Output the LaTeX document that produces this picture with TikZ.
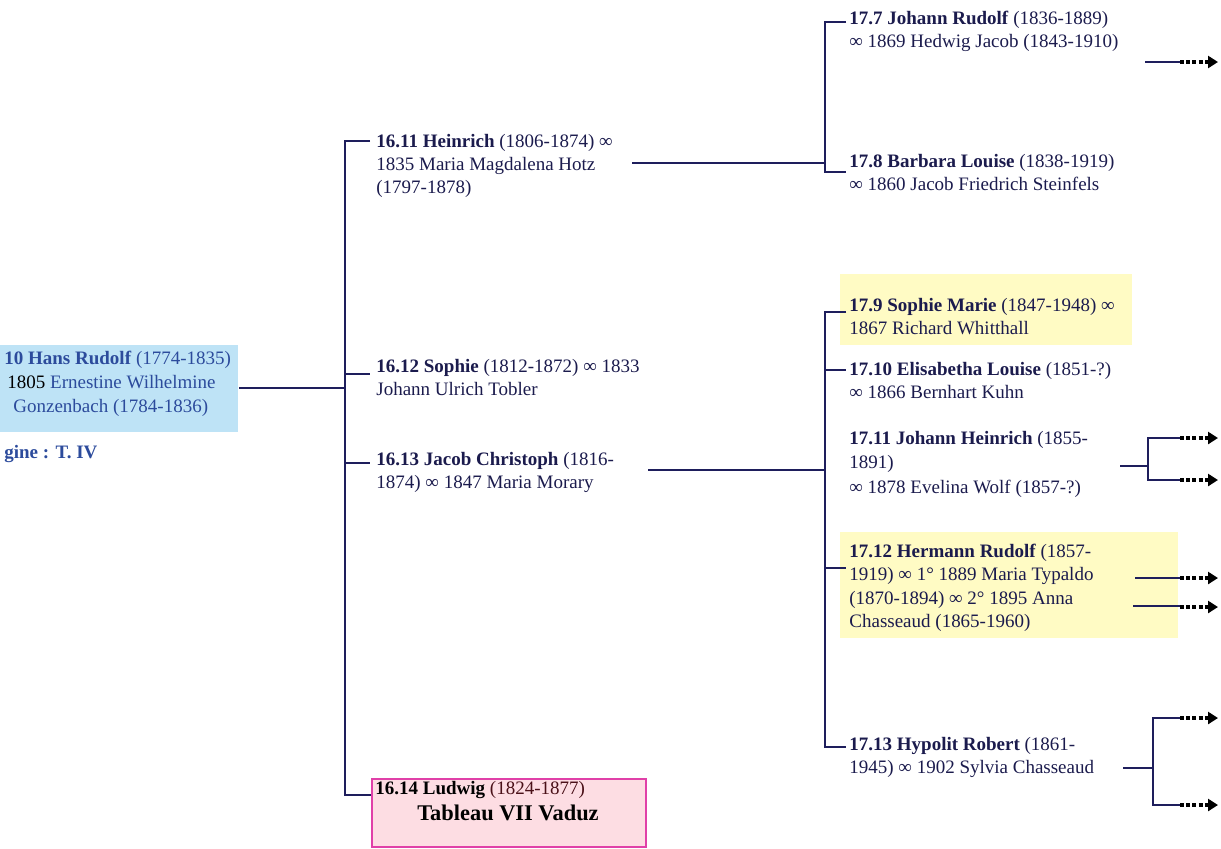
\documentclass[tikz,border=0pt]{standalone}
\usepackage{fontspec}
\setmainfont{Liberation Serif}
\usetikzlibrary{arrows.meta}

\definecolor{ink}{HTML}{1B1B4D}
\definecolor{navyline}{HTML}{1E1E5C}
\definecolor{skyfill}{HTML}{BEE3F6}
\definecolor{skyink}{HTML}{2C4B9C}
\definecolor{notefill}{HTML}{FFFBC4}
\definecolor{rosefill}{HTML}{FDDDE3}
\definecolor{roseedge}{HTML}{E040A8}
\definecolor{roseink}{HTML}{4A1018}

\tikzset{
  famline/.style={draw=navyline, line width=1pt},
  nxt/.style={draw=black, line width=1.6pt, dash pattern=on 2pt off 1.1pt,
    -{Triangle[length=5pt,width=6pt]}},
  person/.style={inner sep=0pt, anchor=north west, align=left, text=ink,
    font=\fontsize{9.5}{11.4}\selectfont},
  hilite/.style={fill=notefill, draw=none, anchor=north west, inner sep=0pt}
}

\begin{document}
\begin{tikzpicture}[x=0.5pt,y=-0.5pt]
    \useasboundingbox (0,0) rectangle (1221,848);

    % Highlight boxes
    \node[hilite, minimum width=146pt, minimum height=35.5pt] (box179) at (840,274) {};
    \node[hilite, minimum width=169pt, minimum height=53pt] (box1712) at (840,532) {};

    % Generation 15
    \node[fill=skyfill, anchor=north west, minimum width=119pt, minimum height=43.5pt,
          inner sep=0pt] (hr) at (0,345) {};
    \node[person, text=skyink, font=\fontsize{9.5}{12}\selectfont] (hrtxt) at (4,351)
      {\textbf{10 Hans Rudolf} (1774-1835)\\
       \hspace*{1.5pt}\textcolor{black}{1805} Ernestine Wilhelmine\\
       \hspace*{4.5pt}Gonzenbach (1784-1836)};
    \node[person, text=skyink] (orig) at (4,445) {\textbf{gine : T. IV}};

    % Generation 16
    \node[person] (h1611) at (376,134)
      {\textbf{16.11 Heinrich} (1806-1874) ∞\\1835 Maria Magdalena Hotz\\(1797-1878)};
    \node[person] (s1612) at (376,359)
      {\textbf{16.12 Sophie} (1812-1872) ∞ 1833\\Johann Ulrich Tobler};
    \node[person] (j1613) at (376,452)
      {\textbf{16.13 Jacob Christoph} (1816-\\1874) ∞ 1847 Maria Morary};
    \node[fill=rosefill, draw=roseedge, line width=0.8pt, anchor=north west,
          minimum width=137pt, minimum height=34pt, inner sep=0pt] (l1614) at (371,778) {};
    \node[person, text=roseink] (l1614a) at (375,781)
      {\textbf{\textcolor{black}{16.14 Ludwig}} (1824-1877)};
    \node[inner sep=0pt, text=black, font=\fontsize{11.2}{13}\selectfont\bfseries]
      (l1614b) at (508,813) {Tableau VII Vaduz};

    % Generation 17
    \node[person] (j177) at (849,11)
      {\textbf{17.7 Johann Rudolf} (1836-1889)\\∞ 1869 Hedwig Jacob (1843-1910)};
    \node[person] (b178) at (849,154)
      {\textbf{17.8 Barbara Louise} (1838-1919)\\∞ 1860 Jacob Friedrich Steinfels};
    \node[person] (s179) at (849,298)
      {\textbf{17.9 Sophie Marie} (1847-1948) ∞\\1867 Richard Whitthall};
    \node[person] (e1710) at (849,362)
      {\textbf{17.10 Elisabetha Louise} (1851-?)\\∞ 1866 Bernhart Kuhn};
    \node[person, font=\fontsize{9.5}{12.2}\selectfont] (j1711) at (849,431)
      {\textbf{17.11 Johann Heinrich} (1855-\\1891)\\∞ 1878 Evelina Wolf (1857-?)};
    \node[person, font=\fontsize{9.5}{11.6}\selectfont] (h1712) at (849,544)
      {\textbf{17.12 Hermann Rudolf} (1857-\\1919) ∞ 1° 1889 Maria Typaldo\\
       (1870-1894) ∞ 2° 1895 Anna\\Chasseaud (1865-1960)};
    \node[person] (h1713) at (849,737)
      {\textbf{17.13 Hypolit Robert} (1861-\\1945) ∞ 1902 Sylvia Chasseaud};

    % Trunk of generation 16
    \coordinate (t16top) at (345,141);
    \coordinate (t16mid) at (345,388);
    \coordinate (t16bot) at (345,795);
    \draw[famline] (hr.east |- t16mid) -- (t16mid);
    \draw[famline] (370,141) -- (t16top) -- (t16bot) -- (t16bot -| l1614.west);
    \draw[famline] (345,374) -- (370,374);
    \draw[famline] (345,463) -- (370,463);

    % Children of 16.11
    \coordinate (h1611r) at (632,163);
    \coordinate (t17a) at (825,163);
    \draw[famline] (h1611r) -- (t17a);
    \draw[famline] (846,22) -- (825,22) -- (825,172) -- (846,172);

    % Children of 16.13
    \coordinate (j1613r) at (648,470);
    \coordinate (t17b) at (825,470);
    \draw[famline] (j1613r) -- (t17b);
    \draw[famline] (846,312) -- (825,312) -- (825,747) -- (846,747);
    \draw[famline] (825,370) -- (846,370);
    \draw[famline] (825,568) -- (846,568);

    % Continuations
    \coordinate (c177a) at (1145,62);  \coordinate (c177b) at (1180,62);
    \coordinate (c177c) at (1218,62);
    \draw[famline] (c177a) -- (c177b);
    \draw[nxt] (c177b) -- (c177c);

    \coordinate (c1711) at (1120,466); \coordinate (f1711) at (1148,466);
    \draw[famline] (c1711) -- (f1711);
    \draw[famline] (1180,438) -- (1148,438) -- (1148,480) -- (1180,480);
    \draw[nxt] (1180,438) -- (1218,438);
    \draw[nxt] (1180,480) -- (1218,480);

    \draw[famline] (1135,578) -- (1180,578);
    \draw[nxt] (1180,578) -- (1218,578);
    \draw[famline] (1133,606) -- (1180,606);
    \draw[nxt] (1180,607) -- (1218,607);

    \coordinate (c1713) at (1123,768); \coordinate (f1713) at (1153,768);
    \draw[famline] (c1713) -- (f1713);
    \draw[famline] (1180,718) -- (1153,718) -- (1153,805) -- (1180,805);
    \draw[nxt] (1180,718) -- (1218,718);
    \draw[nxt] (1180,805) -- (1218,805);
\end{tikzpicture}
\end{document}
